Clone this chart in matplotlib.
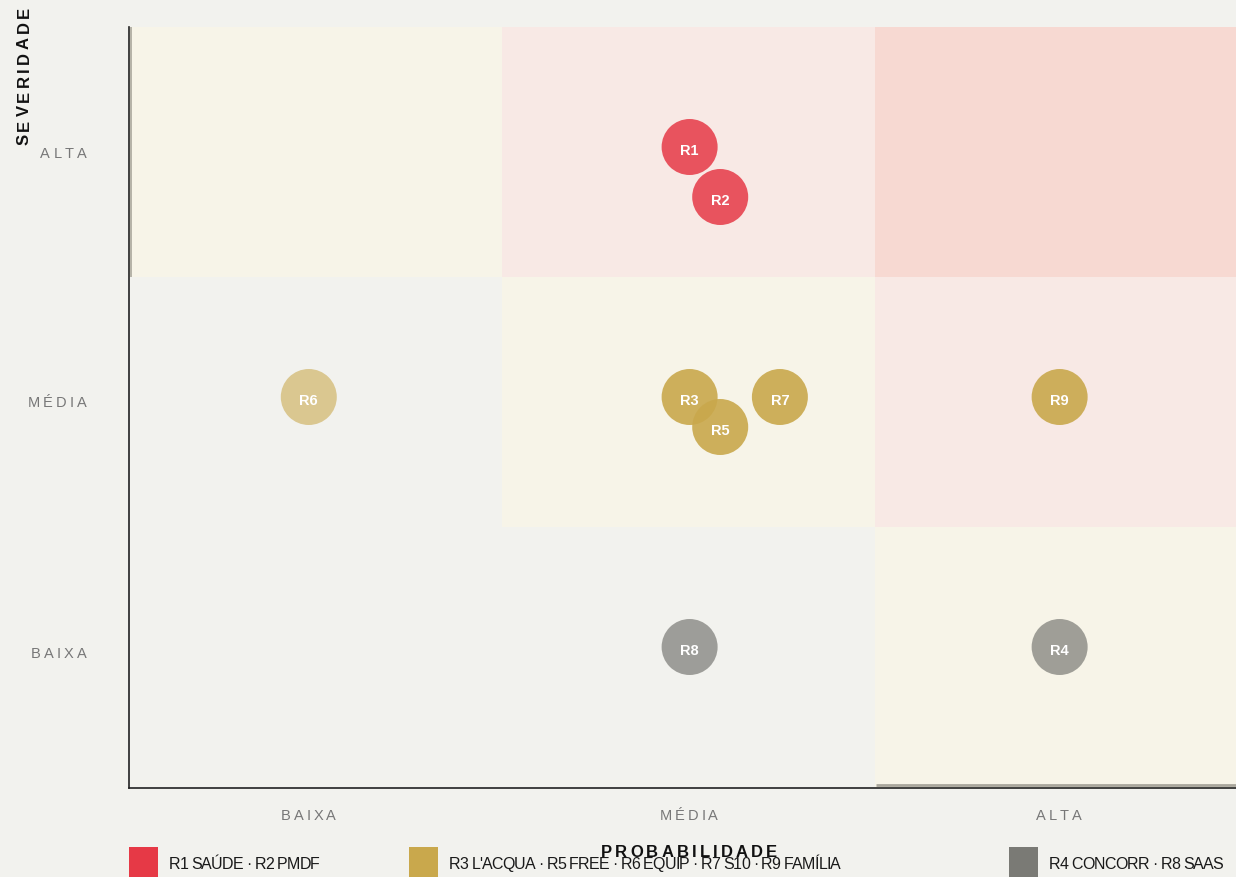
import matplotlib
matplotlib.use("Agg")
import matplotlib.pyplot as plt
from matplotlib.patches import Rectangle
from matplotlib.font_manager import FontProperties, findfont
from matplotlib.ft2font import FT2Font, LoadFlags

# ---------------- data ----------------
levels = ['BAIXA', 'MÉDIA', 'ALTA']          # index 0,1,2 for both axes
x_tick_pos = [0.481, 1.501, 2.493]
y_tick_pos = [0.5, 1.5, 2.5]
x_title = 'PROBABILIDADE'
y_title = 'SEVERIDADE'

# heat-map cell colours  [severity row][probability col]
cell_colors = [['#F2F2EE', '#F2F2EE', '#F7F4E8'],
               ['#F2F2EE', '#F7F4E8', '#F8E9E5'],
               ['#F7F4E8', '#F8E9E5', '#F7D9D2']]

risk_ids = ['R1', 'R2', 'R3', 'R4', 'R5', 'R6', 'R7', 'R8', 'R9']
risk_prob = [1.503, 1.585, 1.503, 2.495, 1.585, 0.482, 1.745, 1.503, 2.495]
risk_sev = [2.52, 2.32, 1.52, 0.52, 1.40, 1.52, 1.52, 0.52, 1.52]
risk_group = ['red', 'red', 'gold', 'gray', 'gold', 'gold', 'gold', 'gray', 'gold']
risk_alpha = [0.85, 0.85, 0.9, 0.7, 0.9, 0.58, 0.9, 0.7, 0.9]

group_colors = {'red': '#E63946', 'gold': '#C9A84C', 'gray': '#7A7A75'}
legend_groups = ['red', 'gold', 'gray']
legend_labels = ['R1 SAÚDE · R2 PMDF',
                 "R3 L'ACQUA · R5 FREE · R6 EQUIP · R7 S10 · R9 FAMÍLIA",
                 'R4 CONCORR · R8 SAAS']

# ---------------- figure ----------------
W, H = 1236, 877
BG = '#F2F2EE'
fig = plt.figure(figsize=(W / 100, H / 100), dpi=100, facecolor=BG)
ax = fig.add_axes([129 / W, (H - 788) / H, (W - 129) / W, (788 - 27) / H])
ax.set_facecolor(BG)
ax.set_xlim(0, (W - 129) / 373)
ax.set_ylim(-11 / 250, 3)
ymin = ax.get_ylim()[0]

for r in range(3):
    for c in range(3):
        y0 = r if r > 0 else ymin
        ax.add_patch(Rectangle((c, y0), 1, (r + 1) - y0, facecolor=cell_colors[r][c],
                               edgecolor='none', zorder=0))
# subtle borders seen in reference
ax.plot([0.005, 0.005], [2, 3], color='#A9A69C', lw=1.2, zorder=1, solid_capstyle='butt')
ax.plot([2.003, 3], [ymin + 0.012, ymin + 0.012], color='#A9A69C', lw=2, zorder=1,
        solid_capstyle='butt')

for sp in ['top', 'right']:
    ax.spines[sp].set_visible(False)
for sp in ['left', 'bottom']:
    ax.spines[sp].set_color('#222222')
    ax.spines[sp].set_linewidth(1.2)
    ax.spines[sp].set_zorder(5)
ax.set_xticks(x_tick_pos)
ax.set_yticks(y_tick_pos)
ax.set_xticklabels([])
ax.set_yticklabels([])
ax.tick_params(length=0)

# bubbles
for rid, px, sv, g, a in zip(risk_ids, risk_prob, risk_sev, risk_group, risk_alpha):
    ax.scatter([px], [sv], s=1626, color=group_colors[g], alpha=a, edgecolors='none', zorder=3)
    ax.annotate(rid, (px, sv), xytext=(0, -2.8), textcoords='offset points',
                ha='center', va='center', color='white', fontsize=10.5,
                fontweight='bold', family='Liberation Sans', zorder=4)


def spaced(s, x, y, spacing, ha='left', rotation=0, size=10, weight='normal',
           color='#777777', family='Liberation Sans'):
    """Letter-spaced text. x,y in pixels (y from top); y is the baseline
    (for rotation=90, x is the baseline position and y the centre along the text)."""
    prop = FontProperties(family=family, size=size, weight=weight)
    font = FT2Font(findfont(prop))
    font.set_size(size, 100)
    adv = []
    for ch in s:
        gl = font.load_char(ord(ch), flags=LoadFlags.NO_HINTING)
        adv.append(gl.linearHoriAdvance / 65536)
    total = sum(adv) + spacing * (len(s) - 1)
    pos = {'center': -total / 2, 'right': -total}.get(ha, 0)
    for ch, a in zip(s, adv):
        if not ch.isspace():
            if rotation == 0:
                fig.text((x + pos) / W, (H - y) / H, ch, ha='left', va='baseline',
                         fontproperties=prop, color=color)
            else:
                fig.text(x / W, (H - (y - pos)) / H, ch, ha='left', va='baseline',
                         rotation=90, rotation_mode='anchor', fontproperties=prop, color=color)
        pos += a + spacing


def data_px(xd, yd):
    px, py = ax.transData.transform((xd, yd))
    return px, H - py


# tick labels
for lab, xp, yp in zip(levels, x_tick_pos, y_tick_pos):
    cx, _ = data_px(xp, 0)
    spaced(lab, cx, 820, 3.0, ha='center', size=10.5)
    _, cy = data_px(0, yp)
    spaced(lab, 86.5, cy + 5.5, 3.2, ha='right', size=10.5)

# axis titles
spaced(y_title, 29, 76, 3.4, ha='center', rotation=90, size=12, weight='bold',
       color='#111111')
cx, _ = data_px(x_tick_pos[1], 0)
spaced(x_title, cx, 857, 3.15, ha='center', size=12, weight='bold', color='#111111')

# legend
leg_sq_x = [129, 409, 1009]
for g, lab, lx in zip(legend_groups, legend_labels, leg_sq_x):
    fig.patches.append(Rectangle((lx / W, 0), 29 / W, 30 / H, transform=fig.transFigure,
                                 facecolor=group_colors[g], edgecolor='none', figure=fig))
    spaced(lab, lx + 40, 869, -0.8, ha='left', size=11.5, color='#1A1A1A')

fig.savefig('out.png', dpi=100, facecolor=BG)
